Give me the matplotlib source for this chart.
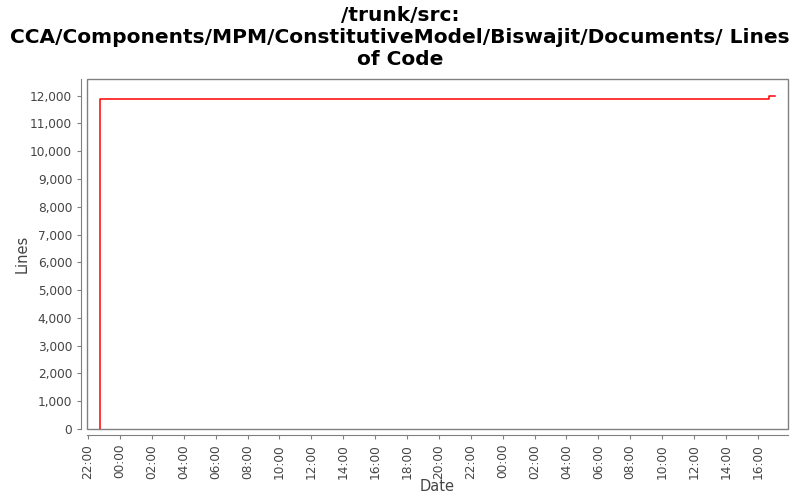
import datetime as dt
import matplotlib
matplotlib.use("Agg")
import matplotlib.pyplot as plt
import matplotlib.dates as mdates
from matplotlib.patches import Rectangle
from matplotlib.ticker import FuncFormatter, MultipleLocator

# data
times = [
    dt.datetime(2010, 1, 1, 22, 46),
    dt.datetime(2010, 1, 1, 22, 46),
    dt.datetime(2010, 1, 3, 16, 44),
    dt.datetime(2010, 1, 3, 16, 44),
    dt.datetime(2010, 1, 3, 17, 3),
]
lines = [0, 11890, 11890, 11980, 11980]

title = "/trunk/src:\nCCA/Components/MPM/ConstitutiveModel/Biswajit/Documents/ Lines\nof Code"

fig = plt.figure(figsize=(8, 5), dpi=100)
ax = fig.add_axes([0.1084, 0.1414, 0.877, 0.700])

ax.plot(times, lines, color="#ff0000", linewidth=1.1, drawstyle="steps-post")

ax.set_xlim(dt.datetime(2010, 1, 1, 21, 55), dt.datetime(2010, 1, 3, 17, 55))
ax.set_ylim(-10, 12590)

ax.yaxis.set_major_locator(MultipleLocator(1000))
ax.yaxis.set_major_formatter(FuncFormatter(lambda v, p: f"{int(v):,}"))
ax.xaxis.set_major_locator(mdates.HourLocator(byhour=range(0, 24, 2)))
ax.xaxis.set_major_formatter(mdates.DateFormatter("%H:%M"))

gray = "#808080"
for s in ["top", "right"]:
    ax.spines[s].set_visible(False)
for s in ["left", "bottom"]:
    ax.spines[s].set_color(gray)
    ax.spines[s].set_position(("outward", 4))
ax.add_patch(Rectangle((0, 0), 1, 1, transform=ax.transAxes, fill=False,
                       edgecolor=gray, linewidth=1.0, clip_on=False))

ax.tick_params(axis="both", colors=gray, labelcolor="#444444", labelsize=8.7, length=3)
ax.tick_params(axis="x", labelrotation=90)

ax.set_xlabel("Date", fontsize=10.5, color="#444444", labelpad=0)
ax.set_ylabel("Lines", fontsize=10.5, color="#444444", labelpad=0)
fig.suptitle(title, fontsize=14.5, fontweight="bold", y=0.988, linespacing=1.2)

fig.savefig("out.png", dpi=100)
